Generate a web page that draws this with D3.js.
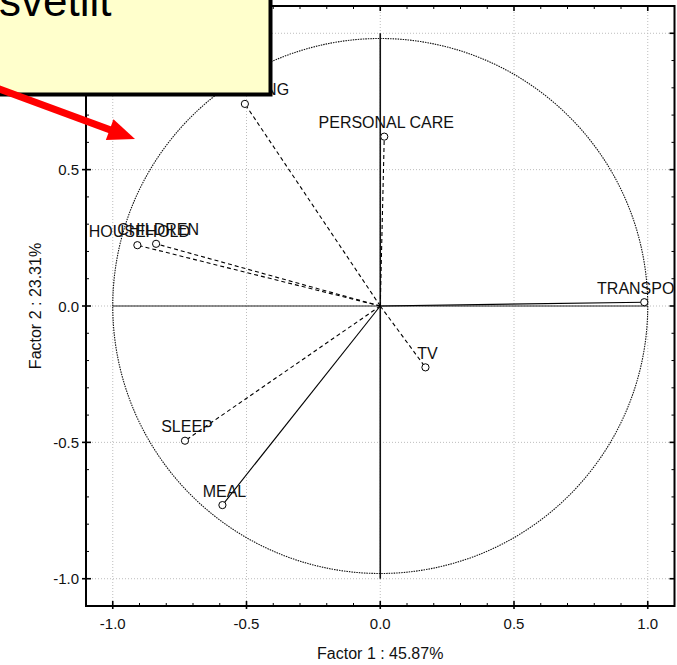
<!DOCTYPE html>
<html>
<head>
<meta charset="utf-8">
<script src="https://cdn.jsdelivr.net/npm/d3@7"></script>
<style>
  html, body { margin: 0; padding: 0; background: #fff; }
  svg { display: block; font-family: "Liberation Sans", Arial, sans-serif; }
</style>
</head>
<body>
<svg id="chart" width="677" height="665"></svg>
<script>
// Factor loadings on the first two factors
const variables = ["SHOPPING", "PERSONAL CARE", "CHILDREN", "HOUSEHOLD", "TRANSPORT", "TV", "SLEEP", "MEAL"];
const factor1   = [-0.506, 0.015, -0.838, -0.908, 0.987, 0.169, -0.730, -0.590];
const factor2   = [0.741, 0.621, 0.228, 0.223, 0.014, -0.225, -0.494, -0.730];
const lineStyle = ["dash", "dash", "dash", "dash", "solid", "dash", "dash", "solid"];

const tickValues  = [-1.0, -0.5, 0.0, 0.5, 1.0];
const tickLabels  = ["-1.0", "-0.5", "0.0", "0.5", "1.0"];
const minorTicks  = d3.range(-11, 12).map(i => i / 10);
const xTitle = "Factor 1 : 45.87%";
const yTitle = "Factor 2 : 23.31%";
const noteText = "svetlit";

const svg = d3.select("#chart");
const plot = { left: 86, right: 674.5, top: 6, bottom: 606 };

const x = d3.scaleLinear().domain([-1.1, 1.1]).range([plot.left, plot.right]);
const y = d3.scaleLinear().domain([-1.1, 1.1]).range([plot.bottom, plot.top]);

svg.append("defs").append("clipPath").attr("id", "plotClip")
  .append("rect")
  .attr("x", plot.left).attr("y", plot.top)
  .attr("width", plot.right - plot.left).attr("height", plot.bottom - plot.top);

const g = svg.append("g").attr("clip-path", "url(#plotClip)");

// dotted grid at the major ticks
g.selectAll("line.gx").data(tickValues).join("line")
  .attr("x1", d => x(d)).attr("x2", d => x(d))
  .attr("y1", plot.top).attr("y2", plot.bottom)
  .attr("stroke", "#bdbdbd").attr("stroke-width", 1).attr("stroke-dasharray", "1,2");
g.selectAll("line.gy").data(tickValues).join("line")
  .attr("y1", d => y(d)).attr("y2", d => y(d))
  .attr("x1", plot.left).attr("x2", plot.right)
  .attr("stroke", "#bdbdbd").attr("stroke-width", 1).attr("stroke-dasharray", "1,2");

// unit circle of correlations
g.append("circle")
  .attr("cx", x(0)).attr("cy", y(0))
  .attr("r", x(1) - x(0))
  .attr("fill", "none").attr("stroke", "#111").attr("stroke-width", 1.1)
  .attr("stroke-dasharray", "1.5,1");

// cross through the origin
g.append("line")
  .attr("x1", x(0)).attr("x2", x(0)).attr("y1", y(1)).attr("y2", y(-1))
  .attr("stroke", "#111").attr("stroke-width", 1.6);
g.append("line")
  .attr("x1", x(-1)).attr("x2", x(1)).attr("y1", y(0)).attr("y2", y(0))
  .attr("stroke", "#222").attr("stroke-width", 1.2);

const rows = variables.map((v, i) => ({ name: v, f1: factor1[i], f2: factor2[i], style: lineStyle[i] }));

// vectors from the origin
g.selectAll("line.vec").data(rows).join("line")
  .attr("class", "vec")
  .attr("x1", x(0)).attr("y1", y(0))
  .attr("x2", d => x(d.f1)).attr("y2", d => y(d.f2))
  .attr("stroke", "#000").attr("stroke-width", 1.1)
  .attr("stroke-dasharray", d => d.style === "dash" ? "4,3" : null);

// variable markers
g.selectAll("circle.pt").data(rows).join("circle")
  .attr("class", "pt")
  .attr("cx", d => x(d.f1)).attr("cy", d => y(d.f2))
  .attr("r", 3.6)
  .attr("fill", "#fff").attr("stroke", "#000").attr("stroke-width", 1);

// variable names
g.selectAll("text.lbl").data(rows).join("text")
  .attr("class", "lbl")
  .attr("x", d => x(d.f1) + 2).attr("y", d => y(d.f2) - 8.5)
  .attr("text-anchor", "middle")
  .attr("font-size", 16).attr("fill", "#111")
  .text(d => d.name);

// frame
svg.append("rect")
  .attr("x", plot.left).attr("y", plot.top)
  .attr("width", plot.right - plot.left).attr("height", plot.bottom - plot.top)
  .attr("fill", "none").attr("stroke", "#000").attr("stroke-width", 2);

// tick marks on all four sides
const isMajor = d => Math.abs(Math.round(d * 10) % 5) === 0;
const ticks = svg.append("g").attr("stroke", "#000");
minorTicks.forEach(d => {
  const len = isMajor(d) ? 5 : 3;
  const sw = isMajor(d) ? 1.6 : 1;
  // bottom
  ticks.append("line").attr("x1", x(d)).attr("x2", x(d))
    .attr("y1", plot.bottom + (isMajor(d) ? 3 : 0)).attr("y2", plot.bottom - len).attr("stroke-width", sw);
  // top
  ticks.append("line").attr("x1", x(d)).attr("x2", x(d))
    .attr("y1", plot.top).attr("y2", plot.top + len).attr("stroke-width", sw);
  // left
  ticks.append("line").attr("y1", y(d)).attr("y2", y(d))
    .attr("x1", plot.left - (isMajor(d) ? 4 : 0)).attr("x2", plot.left + len).attr("stroke-width", sw);
  // right
  ticks.append("line").attr("y1", y(d)).attr("y2", y(d))
    .attr("x1", plot.right).attr("x2", plot.right - len).attr("stroke-width", sw);
});

// tick labels
svg.append("g").selectAll("text").data(tickValues).join("text")
  .attr("x", d => x(d)).attr("y", 628.5)
  .attr("text-anchor", "middle").attr("font-size", 15).attr("fill", "#111")
  .text((d, i) => tickLabels[i]);
svg.append("g").selectAll("text").data(tickValues).join("text")
  .attr("x", 79).attr("y", d => y(d) + 5.5)
  .attr("text-anchor", "end").attr("font-size", 15).attr("fill", "#111")
  .text((d, i) => tickLabels[i]);

// axis titles
svg.append("text")
  .attr("x", (plot.left + plot.right) / 2).attr("y", 659)
  .attr("text-anchor", "middle").attr("font-size", 16).attr("fill", "#111")
  .text(xTitle);
svg.append("text")
  .attr("transform", `translate(41,${(plot.top + plot.bottom) / 2}) rotate(-90)`)
  .attr("text-anchor", "middle").attr("font-size", 16).attr("fill", "#111")
  .text(yTitle);

// callout note
const note = svg.append("g");
note.append("rect")
  .attr("x", -20).attr("y", -20).attr("width", 290.5).attr("height", 114.5)
  .attr("fill", "#ffffcc").attr("stroke", "#000").attr("stroke-width", 4);
note.append("text")
  .attr("x", -1).attr("y", 15.5)
  .attr("font-size", 44).attr("fill", "#000")
  .text(noteText);

// red pointer arrow
const arrowTip = [135, 139];
const arrowTail = [-6, 87];
const ang = Math.atan2(arrowTip[1] - arrowTail[1], arrowTip[0] - arrowTail[0]);
const headLen = 27, headHalf = 11;
const baseX = arrowTip[0] - headLen * Math.cos(ang), baseY = arrowTip[1] - headLen * Math.sin(ang);
svg.append("line")
  .attr("x1", arrowTail[0]).attr("y1", arrowTail[1])
  .attr("x2", baseX + 2 * Math.cos(ang)).attr("y2", baseY + 2 * Math.sin(ang))
  .attr("stroke", "#ff0000").attr("stroke-width", 7);
svg.append("path")
  .attr("d", d3.line()([
    arrowTip,
    [baseX + headHalf * Math.sin(ang), baseY - headHalf * Math.cos(ang)],
    [baseX - headHalf * Math.sin(ang), baseY + headHalf * Math.cos(ang)]
  ]) + "Z")
  .attr("fill", "#ff0000");
</script>
</body>
</html>
